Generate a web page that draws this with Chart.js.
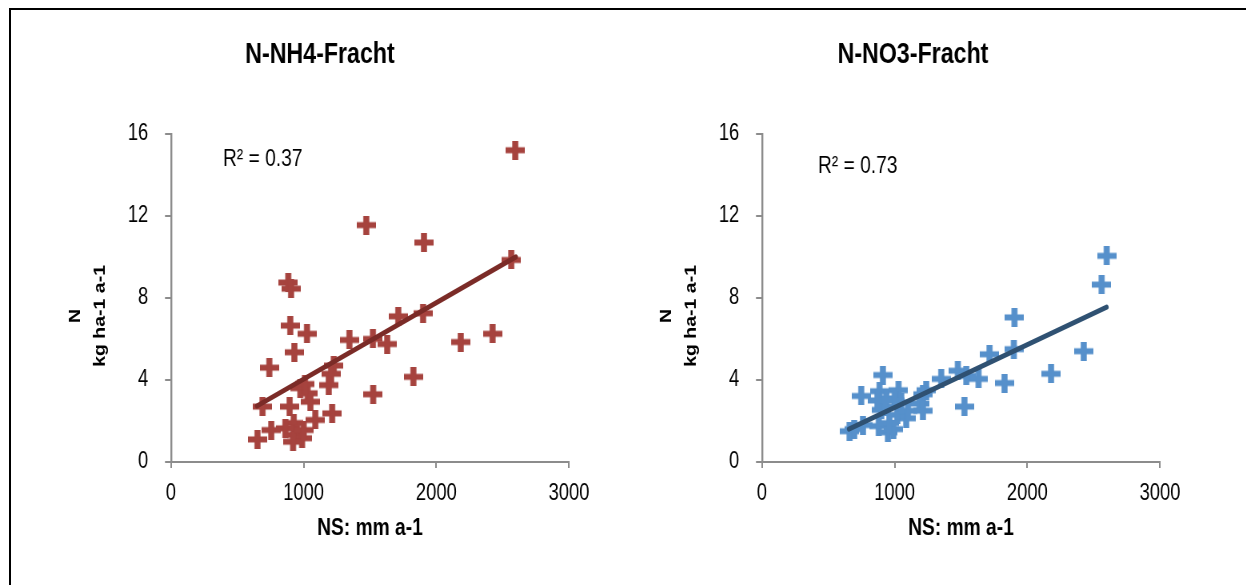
<!DOCTYPE html>
<html>
<head>
<meta charset="utf-8">
<script src="https://cdn.jsdelivr.net/npm/chart.js@4.4.1/dist/chart.umd.min.js"></script>
<style>
  html, body { margin: 0; padding: 0; background: #fff; overflow: hidden; width: 1246px; height: 585px; }
  #frame { position: absolute; left: 9px; top: 8px; width: 1300px; height: 700px;
           border-top: 2px solid #000; border-left: 2px solid #000; }
  /* die Vorlage ist horizontal gestaucht (Faktor 0.8) */
  canvas { position: absolute; top: 0; transform: scaleX(0.8); transform-origin: 0 0; }
  #nh4Chart { left: 0; }
  #no3Chart { left: 591px; }
</style>
</head>
<body>
<div id="frame"></div>
<canvas id="nh4Chart" width="757" height="585"></canvas>
<canvas id="no3Chart" width="819" height="585"></canvas>
<script>
// Niederschlag (NS, mm a-1) und Fracht (kg ha-1 a-1)
const nsNH4 = [2595, 1472, 1907, 2565, 884, 905, 899, 1025, 930, 741, 1713, 1900, 1345, 1522, 1630,
               2184, 2424, 1827, 1524, 1227, 1207, 1189, 975, 1030, 1051, 1010, 690, 894, 1215, 1088,
               925, 862, 756, 652, 950, 988, 920, 1000];
const nh4 = [15.2, 11.55, 10.7, 9.85, 8.75, 8.45, 6.65, 6.25, 5.35, 4.6, 7.1, 7.25, 5.95, 6.0, 5.75,
             5.85, 6.25, 4.15, 3.3, 4.7, 4.3, 3.75, 3.6, 3.35, 2.94, 3.8, 2.7, 2.7, 2.37, 2.05,
             1.9, 1.64, 1.56, 1.1, 1.32, 1.16, 0.99, 1.56];

const nsNO3 = [2598, 2560, 1903, 1898, 1715, 2425, 2179, 1828, 1526, 1632, 1476, 1540, 1351, 1238, 1213,
               1187, 1213, 1087, 1029, 911, 748, 886, 937, 660, 761, 880, 949, 990, 899, 1020,
               695, 960, 1050, 930, 1000, 1100, 870];
const no3 = [10.05, 8.65, 7.05, 5.5, 5.25, 5.4, 4.3, 3.85, 2.7, 4.05, 4.45, 4.2, 4.05, 3.5, 3.3,
             2.85, 2.5, 2.13, 3.5, 4.24, 3.22, 3.45, 3.1, 1.5, 1.8, 1.75, 1.45, 1.6, 2.54, 2.3,
             1.6, 1.9, 2.9, 2.7, 3.0, 2.5, 3.0];

// lineare Trendlinien (Endpunkte aus der Vorlage)
const nh4TrendNS = [648, 2600];
const nh4Trend = [2.73, 10.0];
const no3TrendNS = [655, 2598];
const no3Trend = [1.6, 7.55];

const xTicks = [0, 1000, 2000, 3000];
const yTicks = [0, 4, 8, 12, 16];

const FONT = "'Liberation Sans', Arial, sans-serif";
const AXIS_GREY = '#8c8c8c';

Chart.defaults.font.family = FONT;
Chart.defaults.color = '#000';

function toPoints(xs, ys) {
    return xs.map((x, i) => ({ x: x, y: ys[i] }));
}

// Kreuz-Marker, breiter gezeichnet damit er nach dem Stauchen quadratisch ist
function crossMarker(color) {
    const c = document.createElement('canvas');
    c.width = 24;
    c.height = 19;
    const g = c.getContext('2d');
    g.fillStyle = color;
    g.fillRect(0, 6.5, 24, 6);
    g.fillRect(8.25, 0, 7.5, 19);
    return c;
}

// Achsentitel (y) und Bestimmtheitsmass werden direkt gezeichnet
const labelPlugin = {
    id: 'labelPlugin',
    afterDraw(chart, args, opts) {
        const ctx = chart.ctx;
        const area = chart.chartArea;
        const midY = (area.top + area.bottom) / 2 + 18;
        ctx.save();
        ctx.fillStyle = '#000';
        ctx.textAlign = 'center';
        ctx.textBaseline = 'middle';
        ctx.font = 'bold 19.5px ' + FONT;
        [['N', 119], ['kg ha-1 a-1', 88]].forEach(([txt, dx]) => {
            ctx.save();
            ctx.translate(area.left - dx, midY);
            ctx.rotate(-Math.PI / 2);
            ctx.fillText(txt, 0, 0);
            ctx.restore();
        });

        ctx.font = '24px ' + FONT;
        ctx.textAlign = 'left';
        ctx.fillText(opts.r2, area.left + opts.r2dx, area.top + opts.r2dy);
        ctx.restore();
    }
};

function makeChart(canvasId, title, xs, ys, trendXs, trendYs, markerColor, lineColor, r2, padLeft, padRight, r2dx, r2dy) {
    const ctx = document.getElementById(canvasId).getContext('2d');
    return new Chart(ctx, {
        type: 'scatter',
        data: {
            datasets: [{
                type: 'line',
                data: toPoints(trendXs, trendYs),
                borderColor: lineColor,
                borderWidth: 5,
                borderCapStyle: 'round',
                pointRadius: 0,
                fill: false,
                order: 0
            }, {
                data: toPoints(xs, ys),
                pointStyle: crossMarker(markerColor),
                pointRadius: 10,
                borderColor: markerColor,
                backgroundColor: markerColor,
                order: 1
            }]
        },
        options: {
            responsive: false,
            animation: false,
            devicePixelRatio: 1,
            layout: {
                padding: { left: padLeft, right: padRight, top: 0, bottom: 30 }
            },
            plugins: {
                legend: { display: false },
                tooltip: { enabled: false },
                title: {
                    display: true,
                    text: title,
                    color: '#000',
                    font: { size: 29, weight: 'bold' },
                    padding: { top: 38, bottom: 61 }
                },
                labelPlugin: { r2: r2, r2dx: r2dx, r2dy: r2dy }
            },
            scales: {
                x: {
                    type: 'linear',
                    min: 0,
                    max: 3000,
                    afterBuildTicks: (scale) => { scale.ticks = xTicks.map(v => ({ value: v })); },
                    afterFit: (scale) => { scale.height = 93; },
                    ticks: { font: { size: 23 }, color: '#000', padding: 12, callback: v => String(v) },
                    grid: { drawOnChartArea: false, drawTicks: true, tickLength: 6, color: AXIS_GREY, lineWidth: 2 },
                    border: { color: AXIS_GREY, width: 2 },
                    title: {
                        display: true,
                        text: 'NS: mm a-1',
                        color: '#000',
                        font: { size: 24, weight: 'bold' },
                        padding: { top: 0, bottom: 12 }
                    }
                },
                y: {
                    min: 0,
                    max: 16,
                    afterBuildTicks: (scale) => { scale.ticks = yTicks.map(v => ({ value: v })); },
                    afterFit: (scale) => { scale.width = 213.75 - padLeft; },
                    ticks: { font: { size: 23 }, color: '#000', padding: 21, callback: v => String(v) },
                    grid: { drawOnChartArea: false, drawTicks: true, tickLength: 7.5, color: AXIS_GREY, lineWidth: 2 },
                    border: { color: AXIS_GREY, width: 2.4 }
                }
            }
        },
        plugins: [labelPlugin]
    });
}

makeChart('nh4Chart', 'N-NH4-Fracht', nsNH4, nh4, nh4TrendNS, nh4Trend,
          '#a6433e', '#7b2b27', 'R² = 0.37', 88.75, 45.75, 65, 26);
makeChart('no3Chart', 'N-NO3-Fracht', nsNO3, no3, no3TrendNS, no3Trend,
          '#5690cb', '#2f5172', 'R² = 0.73', 93.75, 107.75, 70, 33);
</script>
</body>
</html>
